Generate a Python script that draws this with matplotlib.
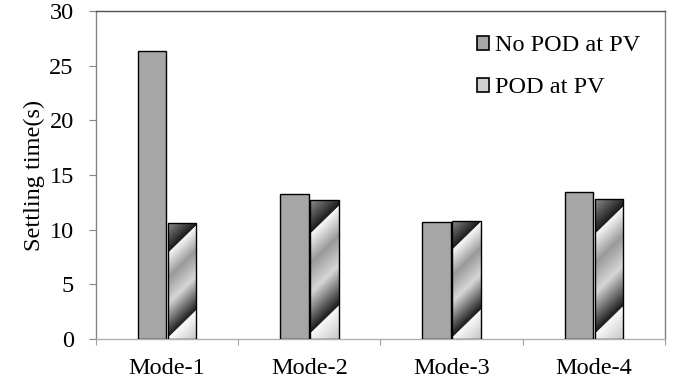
import numpy as np
import matplotlib.pyplot as plt
from matplotlib.patches import Patch

modes = ['Mode-1', 'Mode-2', 'Mode-3', 'Mode-4']
no_pod = [26.3, 13.3, 10.7, 13.4]
pod = [10.6, 12.7, 10.8, 12.8]
series_names = ['No POD at PV', 'POD at PV']

plt.rcParams['font.family'] = ['Liberation Serif', 'DejaVu Serif']
fs = 17.5
fig = plt.figure(figsize=(6.83, 3.86), dpi=100)
ax = fig.add_axes([0.1406, 0.1218, 0.833, 0.8497])

x = np.arange(len(modes))
w = 0.2
ax.bar(x - 0.105, no_pod, w, color='#a6a6a6', edgecolor='black', lw=1.0, zorder=3)
bars2 = ax.bar(x + 0.105, pod, w, color='none', edgecolor='black', lw=1.0, zorder=5)

ax.set_xlim(-0.5, 3.5)
ax.set_ylim(0, 30)
fig.canvas.draw()

# diagonal "mirrored" gradient fill, stretched over each bar
knots = [0, 0.2, 0.2001, 0.38, 0.56, 0.8, 0.8001, 1.0]
shades = [0.55, 0.1, 0.98, 0.6, 0.84, 0.1, 0.98, 0.78]
for b in bars2:
    ext = b.get_window_extent()
    wp, hp = int(max(ext.width, 2)), int(max(ext.height, 2))
    xx, yy = np.meshgrid(np.arange(wp), np.arange(hp))
    t = (xx + yy) / (wp + hp - 2)
    img = np.interp(t, knots, shades)
    x0 = b.get_x()
    im = ax.imshow(img, cmap='gray', vmin=0, vmax=1, origin='upper',
                   extent=(x0, x0 + b.get_width(), 0, b.get_height()),
                   aspect='auto', interpolation='bilinear', zorder=4)
    im.set_clip_path(b)

ax.set_xlim(-0.5, 3.5)
ax.set_ylim(0, 30)
ax.set_yticks(np.arange(0, 31, 5))
ax.set_xticks(np.arange(-0.5, 4, 1))
ax.set_xticklabels([])
ax.set_xticks(x, modes, minor=True)
ax.tick_params(axis='x', which='minor', length=0, pad=14, labelsize=fs)
ax.tick_params(axis='x', which='major', length=4, color='#a0a0a0', direction='out')
ax.tick_params(axis='y', length=5, color='#868686', pad=11, labelsize=fs)

ax.spines['left'].set_color('#868686')
ax.spines['bottom'].set_color('#b0b0b0')
ax.spines['top'].set_color('#505050')
ax.spines['right'].set_color('#808080')
for s in ax.spines.values():
    s.set_linewidth(1.0)

ax.set_ylabel('Settling time(s)', fontsize=fs, labelpad=3)

handles = [Patch(facecolor='#a6a6a6', edgecolor='black', lw=1.2),
           Patch(facecolor='#cfcfcf', edgecolor='black', lw=1.2)]
ax.legend(handles, series_names, loc='upper right', frameon=False, fontsize=fs,
          handlelength=0.5, handleheight=0.5, handletextpad=0.25,
          labelspacing=0.86, borderaxespad=0.6)

fig.savefig('out.png', dpi=100)
